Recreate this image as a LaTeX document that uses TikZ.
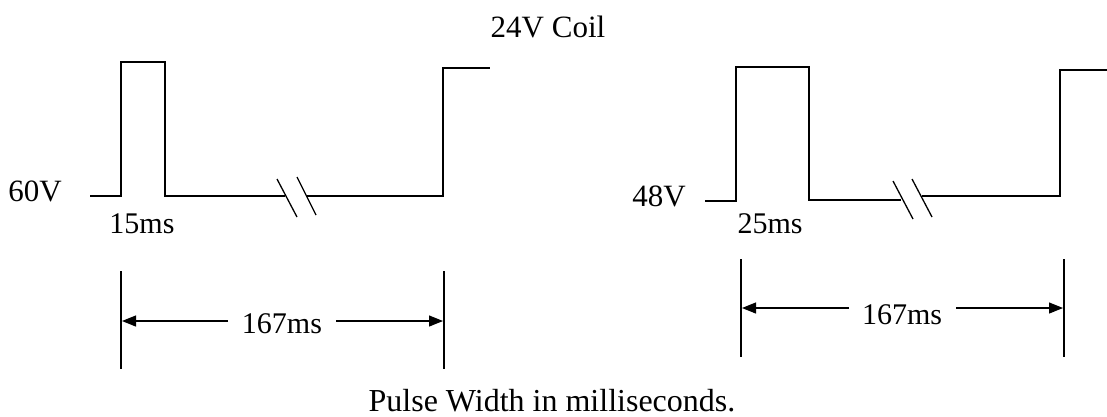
\documentclass[tikz,border=0pt]{standalone}
\usepackage{fontspec}
\setmainfont{Liberation Serif}
\usetikzlibrary{arrows.meta}
\begin{document}
\begin{tikzpicture}[x=1pt,y=-1pt,
  wave/.style={line width=1.3pt,line join=miter},
  brk/.style={line width=1.3pt},
  ext/.style={line width=1.2pt},
  dim/.style={line width=1.2pt,-{Triangle[length=14pt,width=11pt]}},
  lbl/.style={font=\fontsize{30}{34}\selectfont,inner sep=0pt,anchor=base}]
\useasboundingbox (0,0) rectangle (1107,416);
% titles
\node[lbl,font=\fontsize{31}{35}\selectfont] (title) at (548,37) {24V Coil};
\node[lbl,font=\fontsize{32}{36}\selectfont] (caption) at (552,411) {Pulse Width in milliseconds.};
% left waveform
\node[lbl,font=\fontsize{31}{35}\selectfont] (v60) at (35,201) {60V};
\node[lbl] (t15) at (142,233) {15ms};
\draw[wave] (90,196) -- (121,196) -- (121,62) -- (165,62) -- (165,196) -- (285,196);
\draw[brk] (277,179) -- (297,217);
\draw[brk] (297,177) -- (316,215);
\draw[wave] (307,196) -- (443,196) -- (443,68) -- (490,68);
% left dimension
\coordinate (la) at (121,271); \coordinate (lb) at (121,369);
\coordinate (lc) at (444,271); \coordinate (ld) at (444,369);
\draw[ext] (la) -- (lb);
\draw[ext] (lc) -- (ld);
\node[lbl] (d1) at (282,333) {167ms};
\coordinate (l1) at (228,321); \coordinate (l1e) at (122,321);
\coordinate (l2) at (336,321); \coordinate (l2e) at (443,321);
\draw[dim] (l1) -- (l1e);
\draw[dim] (l2) -- (l2e);
% right waveform
\node[lbl,font=\fontsize{31}{35}\selectfont] (v48) at (659,206) {48V};
\node[lbl] (t25) at (770,233) {25ms};
\draw[wave] (705,201) -- (736,201) -- (736,67) -- (809,67) -- (809,200) -- (901,200);
\draw[brk] (893,181) -- (913,219);
\draw[brk] (912,179) -- (932,217);
\draw[wave] (922,196) -- (1060,196) -- (1060,70) -- (1107,70);
% right dimension
\coordinate (ra) at (741,259); \coordinate (rb) at (741,357);
\coordinate (rc) at (1064,259); \coordinate (rd) at (1064,357);
\draw[ext] (ra) -- (rb);
\draw[ext] (rc) -- (rd);
\node[lbl] (d2) at (902,324) {167ms};
\coordinate (r1) at (849,308); \coordinate (r1e) at (742,308);
\coordinate (r2) at (956,308); \coordinate (r2e) at (1063,308);
\draw[dim] (r1) -- (r1e);
\draw[dim] (r2) -- (r2e);
\end{tikzpicture}
\end{document}
